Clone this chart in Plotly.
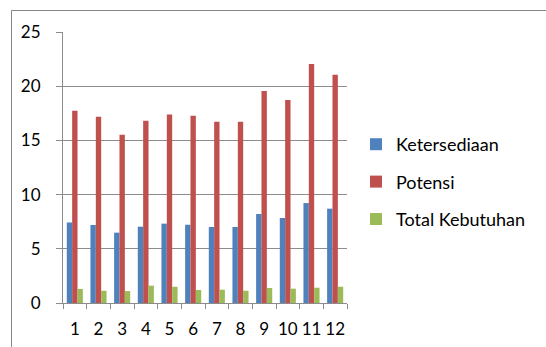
import plotly.graph_objects as go

months = ["1", "2", "3", "4", "5", "6", "7", "8", "9", "10", "11", "12"]
ketersediaan = [7.43, 7.20, 6.49, 7.04, 7.32, 7.22, 7.01, 7.01, 8.21, 7.84, 9.22, 8.70]
potensi = [17.74, 17.19, 15.53, 16.82, 17.40, 17.28, 16.72, 16.72, 19.56, 18.73, 22.05, 21.06]
total_kebutuhan = [1.29, 1.13, 1.10, 1.60, 1.50, 1.20, 1.23, 1.13, 1.38, 1.32, 1.41, 1.50]

series = [
    ("Ketersediaan", ketersediaan, "#4F81BD"),
    ("Potensi", potensi, "#C0504D"),
    ("Total Kebutuhan", total_kebutuhan, "#9BBB59"),
]

W, H = 546, 347
L, R, T, B = 63, 199, 32, 44
pw, ph = W - L - R, H - T - B

fig = go.Figure()
for name, vals, color in series:
    fig.add_trace(go.Bar(
        x=months, y=vals, name=name, legendgroup=name,
        marker=dict(color=color, line=dict(width=0)),
    ))

font = "Lato, 'Open Sans', sans-serif"
grid = "#8C8C8C"

fig.update_layout(
    width=W, height=H,
    margin=dict(l=L, r=R, t=T, b=B, autoexpand=False),
    paper_bgcolor="white", plot_bgcolor="white",
    barmode="group", bargap=0.32, bargroupgap=0,
    font=dict(family=font, size=18, color="#000000"),
    legend=dict(
        x=(356 - L) / pw, y=1 - (182 - T) / ph,
        xanchor="left", yanchor="middle",
        font=dict(family=font, size=18, color="#000000"),
        tracegroupgap=11, itemwidth=30,
        bgcolor="rgba(0,0,0,0)",
    ),
    xaxis=dict(
        type="category", showgrid=False, automargin=False,
        showline=True, linecolor=grid, linewidth=1,
        ticks="outside", tickson="boundaries", ticklen=5, tickcolor=grid,
        tickangle=0, ticklabelstandoff=11,
        tickfont=dict(family=font, size=17, color="#000000"),
    ),
    yaxis=dict(
        range=[0, 25], dtick=5, showgrid=True, gridcolor=grid, gridwidth=1,
        showline=True, linecolor=grid, linewidth=1, zeroline=False,
        automargin=False,
        ticks="outside", ticklen=6, tickcolor=grid,
        ticklabelstandoff=12,
        tickfont=dict(family=font, size=17, color="#000000"),
    ),
)

# outer chart frame (top and left edges visible)
x0 = (11.5 - L) / pw
y1 = 1 + (T - 10.5) / ph
fig.add_shape(type="line", xref="paper", yref="paper",
              x0=x0, x1=(W + 5 - L) / pw, y0=y1, y1=y1,
              line=dict(color="#868686", width=1))
fig.add_shape(type="line", xref="paper", yref="paper",
              x0=x0, x1=x0, y0=y1, y1=-(B + 5) / ph,
              line=dict(color="#868686", width=1))

fig.write_html("out.html")
